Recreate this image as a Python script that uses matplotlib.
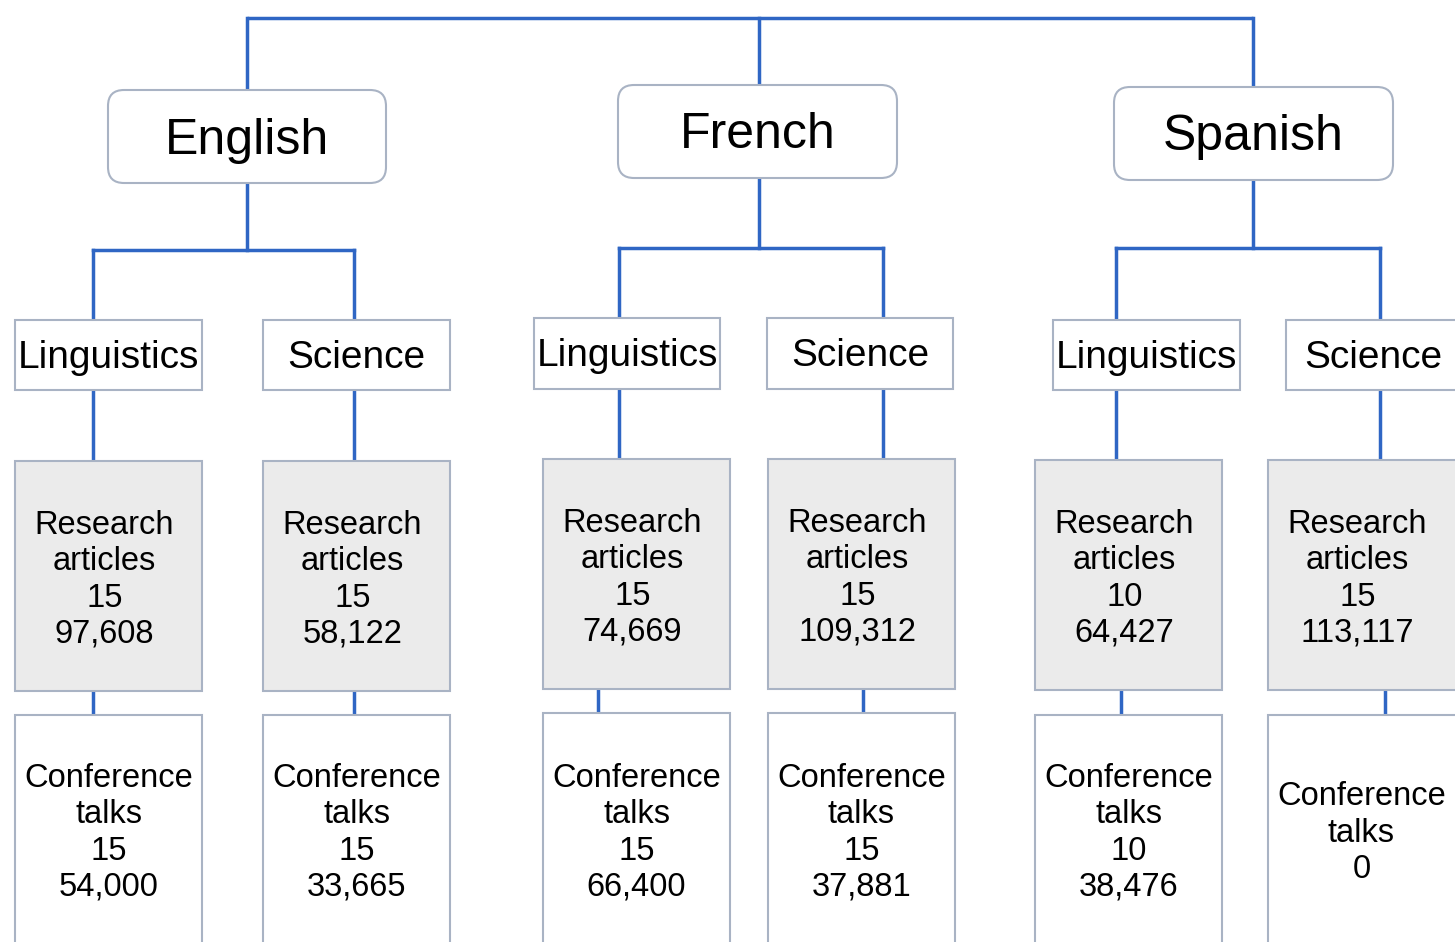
import matplotlib.pyplot as plt
from matplotlib.patches import Rectangle, FancyBboxPatch

# data
languages = ["English", "French", "Spanish"]
subjects = ["Linguistics", "Science"]
research_counts = [[15, 15], [15, 15], [10, 15]]
research_words = [["97,608", "58,122"], ["74,669", "109,312"], ["64,427", "113,117"]]
talk_counts = [[15, 15], [15, 15], [10, 0]]
talk_words = [["54,000", "33,665"], ["66,400", "37,881"], ["38,476", ""]]

# layout (pixels)
top_y = 18
lang_x = [247, 759, 1253]
lang_box = [(108, 386, 90, 183), (618, 897, 85, 178), (1114, 1393, 87, 180)]
branch_y = [250, 248, 248]
sub_conn_x = [[93, 354], [619, 883], [1116, 1380]]
sub_box_x = [[(15, 202), (263, 450)], [(534, 720), (767, 953)], [(1053, 1240), (1286, 1460)]]
sub_box_y = [(320, 390), (318, 389), (320, 390)]
res_box_x = [[(15, 202), (263, 450)], [(543, 730), (768, 955)], [(1035, 1222), (1268, 1460)]]
res_box_y = [(461, 691), (459, 689), (460, 690)]
low_conn_x = [[93, 354], [598, 863], [1121, 1385]]
conf_top = [715, 713, 715]

blue = "#2f66c4"
edge = "#a9b3c4"
gray = "#ebebeb"
font = "Liberation Sans"

fig = plt.figure(figsize=(14.55, 9.42), dpi=100)
ax = fig.add_axes([0, 0, 1, 1])
ax.set_xlim(0, 1455)
ax.set_ylim(942, 0)
ax.axis("off")

# top bar
ax.plot([lang_x[0], lang_x[-1]], [top_y, top_y], color=blue, lw=2.5, solid_capstyle="butt")

for g, lang in enumerate(languages):
    x0, x1, y0, y1 = lang_box[g]
    ax.plot([lang_x[g], lang_x[g]], [top_y, y0], color=blue, lw=2.5)
    ax.add_patch(FancyBboxPatch((x0, y0), x1 - x0, y1 - y0,
                                boxstyle="round,pad=0,rounding_size=16",
                                fc="white", ec=edge, lw=1.5, zorder=3))
    ax.text((x0 + x1) / 2, (y0 + y1) / 2 + 4, lang, fontsize=36, family=font,
            ha="center", va="center", zorder=4)

    # branch
    by = branch_y[g]
    ax.plot([lang_x[g], lang_x[g]], [y1, by], color=blue, lw=2.5)
    ax.plot([sub_conn_x[g][0], sub_conn_x[g][1]], [by, by], color=blue, lw=2.5)

    sy0, sy1 = sub_box_y[g]
    ry0, ry1 = res_box_y[g]
    for s, subj in enumerate(subjects):
        cx = sub_conn_x[g][s]
        ax.plot([cx, cx], [by, sy0], color=blue, lw=2.5)
        ax.plot([cx, cx], [sy1, ry0], color=blue, lw=2.5)

        bx0, bx1 = sub_box_x[g][s]
        ax.add_patch(Rectangle((bx0, sy0), bx1 - bx0, sy1 - sy0,
                               fc="white", ec=edge, lw=1.5, zorder=3))
        ax.text((bx0 + bx1) / 2, (sy0 + sy1) / 2 + 3, subj, fontsize=28, family=font,
                ha="center", va="center", zorder=4)

        rx0, rx1 = res_box_x[g][s]
        ax.add_patch(Rectangle((rx0, ry0), rx1 - rx0, ry1 - ry0,
                               fc=gray, ec=edge, lw=1.5, zorder=3))
        txt = "Research\narticles\n%d\n%s" % (research_counts[g][s], research_words[g][s])
        ax.text((rx0 + min(rx1, 1455)) / 2 - 4, (ry0 + ry1) / 2 + 4, txt, fontsize=23.5,
                family=font, ha="center", va="center", linespacing=1.22, zorder=4)

        lx = low_conn_x[g][s]
        ct = conf_top[g]
        ax.plot([lx, lx], [ry1, ct], color=blue, lw=2.5)
        ax.add_patch(Rectangle((rx0, ct), rx1 - rx0, 960 - ct,
                               fc="white", ec=edge, lw=1.5, zorder=3, clip_on=True))
        txt = "Conference\ntalks\n%d" % talk_counts[g][s]
        if talk_words[g][s]:
            txt += "\n" + talk_words[g][s]
        ax.text((rx0 + min(rx1, 1455)) / 2, 833, txt, fontsize=23.5, family=font,
                ha="center", va="center", linespacing=1.22, zorder=4)

fig.savefig("out.png", dpi=100)
